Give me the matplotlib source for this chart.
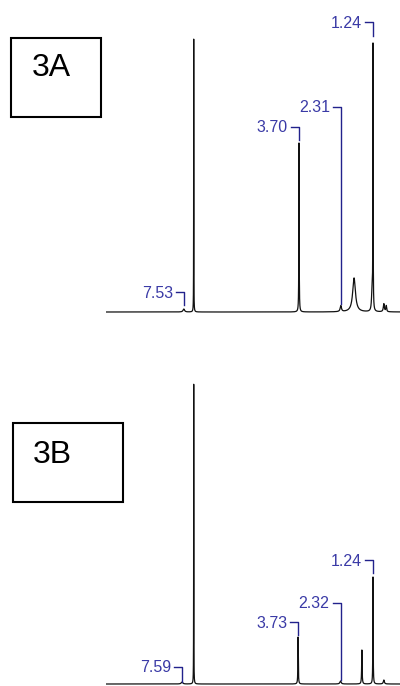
import numpy as np
import matplotlib
matplotlib.use("Agg")
import matplotlib.pyplot as plt
from matplotlib.patches import Rectangle

# Peak lists: chemical shift (ppm), intensity, line width (ppm)
a_shift = [7.53, 7.20, 3.70, 2.31, 1.87, 1.27, 1.24, 0.88, 0.80]
a_height = [3, 274, 169, 6, 34, 22, 262, 8, 6]
a_width = [0.06, 0.006, 0.012, 0.05, 0.11, 0.04, 0.01, 0.04, 0.03]

b_shift = [7.59, 7.20, 3.73, 2.32, 1.61, 1.24, 0.88]
b_height = [2, 301, 47, 3, 34, 107, 4]
b_width = [0.06, 0.006, 0.015, 0.05, 0.018, 0.012, 0.04]

# Annotated shifts: (label, label height, bracket bottom)
a_labels = ["7.53", "3.70", "2.31", "1.24"]
a_label_y = [20, 185, 205, 290]
a_label_end = [7, 172, 8, 276]

b_labels = ["7.59", "3.73", "2.32", "1.24"]
b_label_y = [17, 62, 81, 124]
b_label_end = [2, 49, 4, 111]

panel_names = ["3A", "3B"]

W, H = 400, 686
PX_PER_PPM = 30.08
ppm_left = 1.24 + (373 - 106) / PX_PER_PPM
ppm_right = 1.24 - (400 - 373) / PX_PER_PPM

ppm = np.linspace(ppm_left, ppm_right, 12000)


def spectrum(shifts, heights, widths):
    y = np.zeros_like(ppm)
    for s, h, w in zip(shifts, heights, widths):
        g = w / 2.0
        y += h * g**2 / ((ppm - s) ** 2 + g**2)
    return y


fig = plt.figure(figsize=(W / 100, H / 100), dpi=100)

label_color = "#3a3aa6"
bracket_color = "#22228c"
dx_line = 8 / PX_PER_PPM
dx_text = 11 / PX_PER_PPM


def draw_panel(rect, ylim, shifts, heights, widths, labels, label_y, label_end):
    ax = fig.add_axes(rect)
    ax.plot(ppm, spectrum(shifts, heights, widths), color="#111111", lw=0.9)
    for lab, ly, le in zip(labels, label_y, label_end):
        x = float(lab)
        ax.plot([x + dx_line, x, x], [ly, ly, le], color=bracket_color, lw=1.0)
        ax.text(x + dx_text, ly - 1, lab, ha="right", va="center",
                color=label_color, fontsize=11.5, family="Liberation Sans")
    ax.set_xlim(ppm_left, ppm_right)
    ax.set_ylim(*ylim)
    ax.axis("off")
    return ax


draw_panel([106 / W, (H - 330) / H, 294 / W, 330 / H], (-18, 312),
           a_shift, a_height, a_width, a_labels, a_label_y, a_label_end)
draw_panel([106 / W, 0, 294 / W, 346 / H], (-2, 344),
           b_shift, b_height, b_width, b_labels, b_label_y, b_label_end)

# Panel tag boxes (pixel geometry: left, top, right, bottom)
boxes = [(11, 38, 101, 117), (13, 423, 123, 502)]
tag_pos = [(32, 68), (33, 455)]
for name, (l, t, r, b), (tx, ty) in zip(panel_names, boxes, tag_pos):
    fig.add_artist(Rectangle((l / W, 1 - b / H), (r - l) / W, (b - t) / H,
                             transform=fig.transFigure, fill=False,
                             edgecolor="black", lw=1.5))
    fig.text(tx / W, 1 - ty / H, name, ha="left", va="center",
             fontsize=23, family="Liberation Sans", color="black")

fig.savefig("out.png", dpi=100)
